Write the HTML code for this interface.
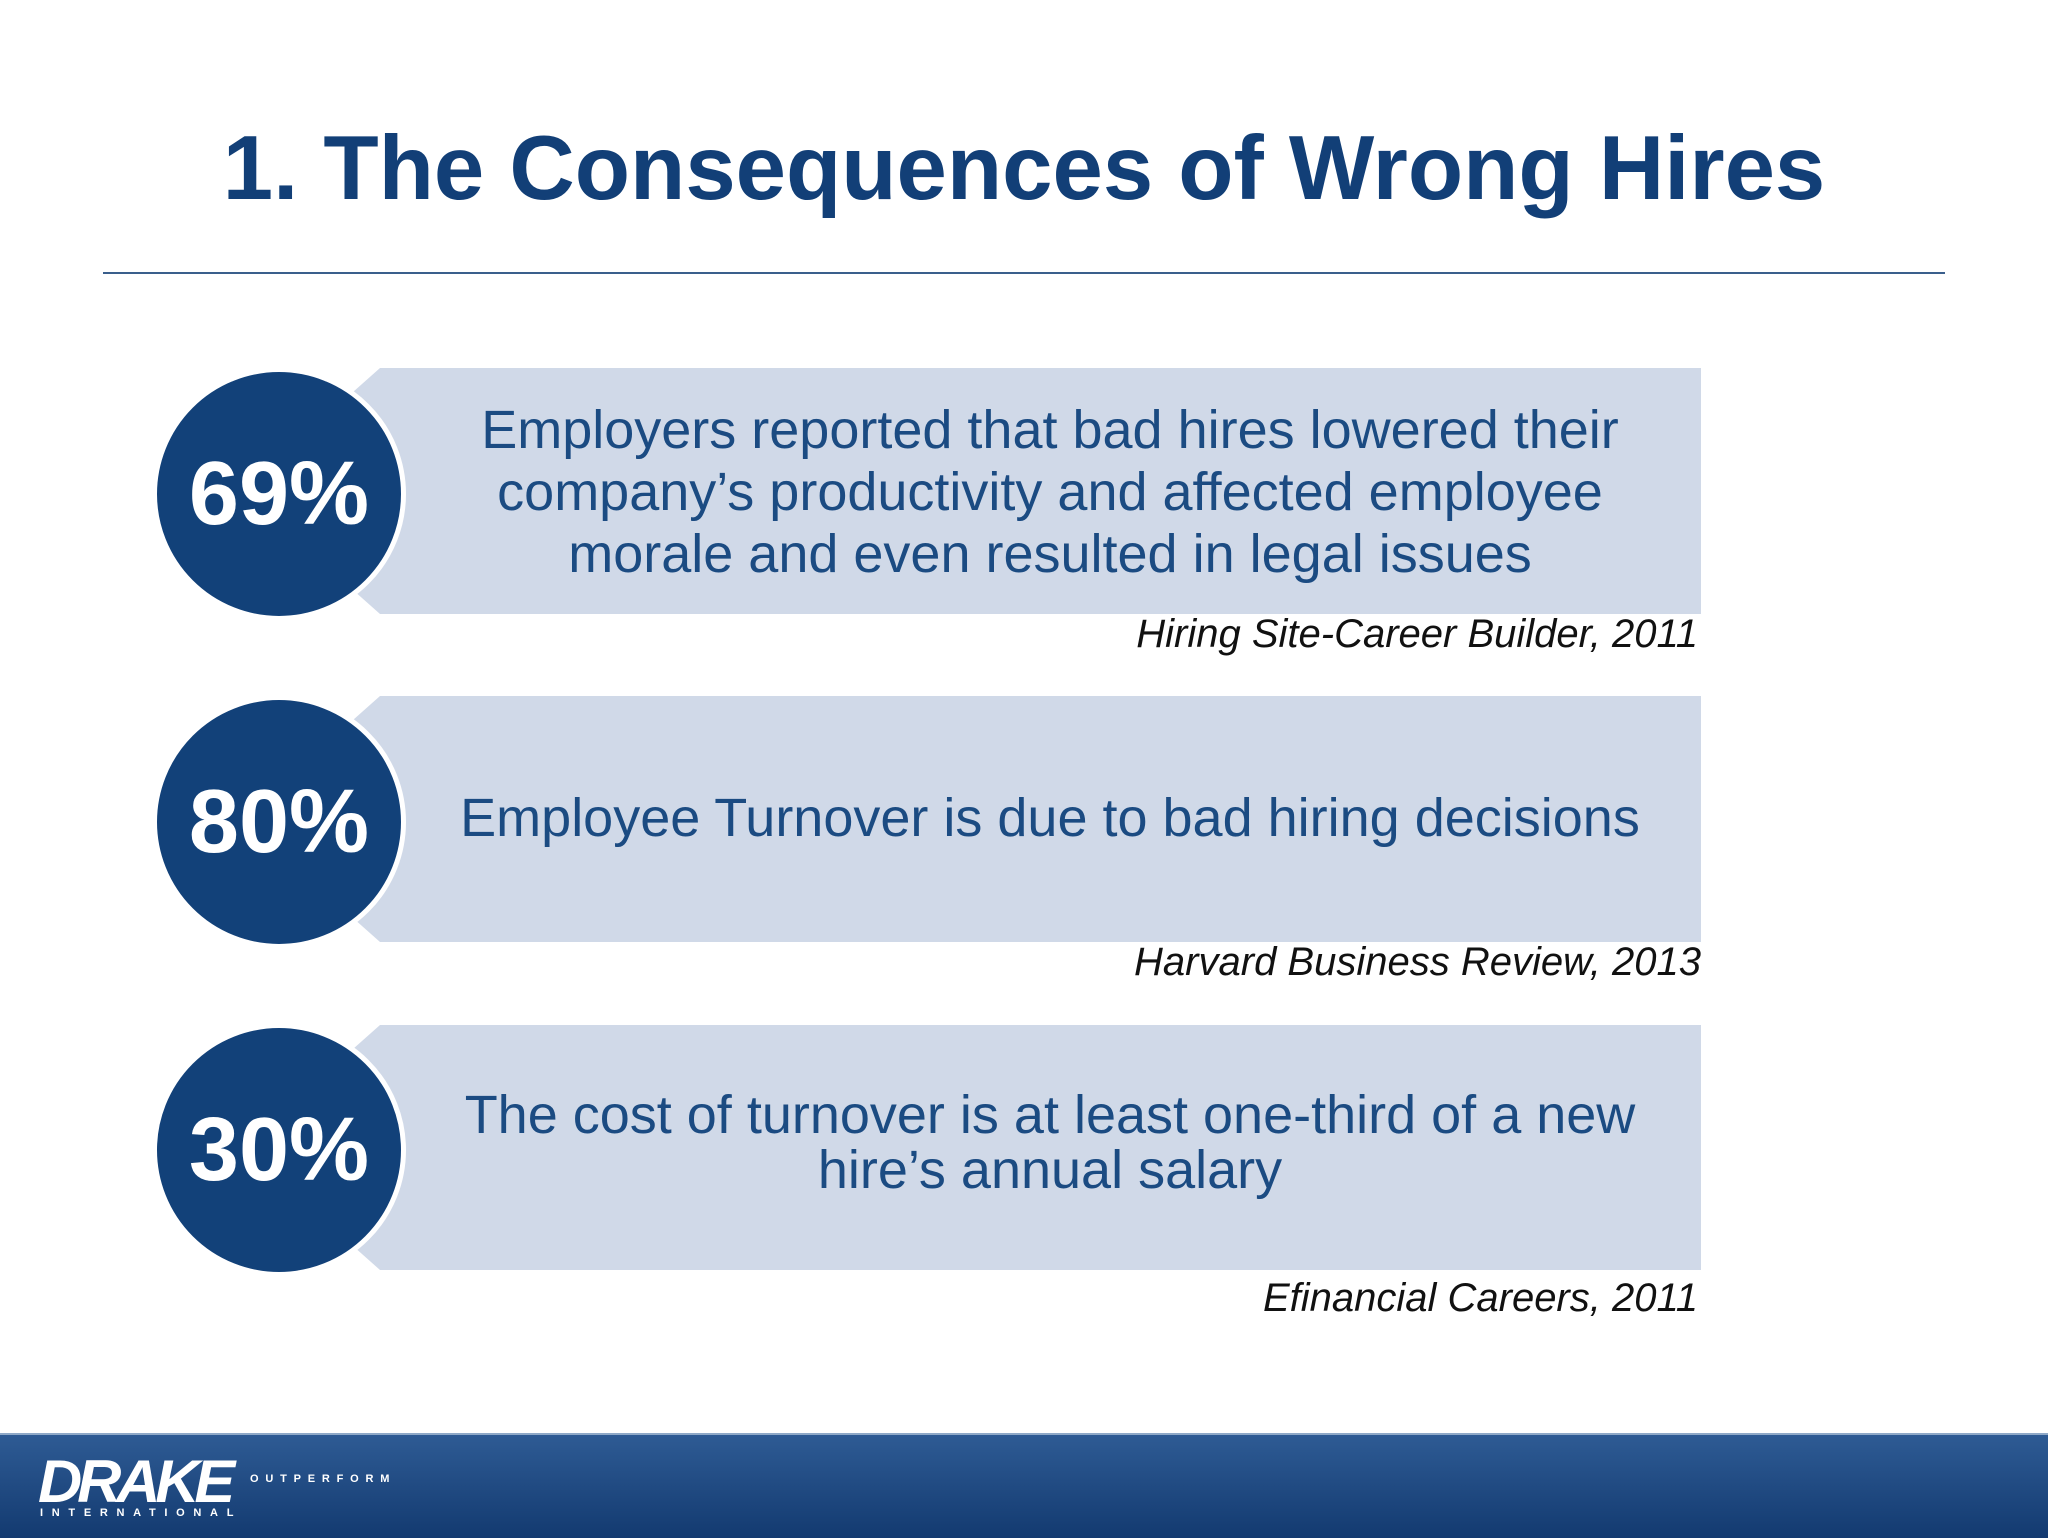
<!DOCTYPE html>
<html><head><meta charset="utf-8"><style>
body{margin:0;width:2048px;height:1536px;position:relative;background:#fff;overflow:hidden;font-family:"Liberation Sans",Arial,sans-serif}
.abs{position:absolute}
.title{left:0;width:2048px;top:117px;text-align:center;font-weight:bold;font-size:90.5px;color:#123f77}
.rule{left:103px;width:1842px;top:272px;height:2px;background:#3a5f8c}
.circle{width:244px;height:244px;border-radius:50%;background:#124179;border:5px solid #fff;left:152px;color:#fff;font-weight:bold;font-size:90px;display:flex;align-items:center;justify-content:center}
.txt{left:455px;width:1190px;text-align:center;color:#1b4b82;font-size:54px;line-height:62px}
.src{right:350px;font-style:italic;font-size:40px;color:#111}
.footer{left:0;top:1433px;width:2048px;height:103px;background:linear-gradient(#2e5b94,#133a70);border-top:2px solid #8fa9c8}
</style></head><body>
<div class="abs title">1. The Consequences of Wrong Hires</div>
<div class="abs rule"></div>

<svg class="abs" style="left:0;top:0" width="2048" height="1536">
<polygon points="380,368 1701,368 1701,614 380,614 353,590 353,392" fill="#d0d9e8"/>
<polygon points="380,696 1701,696 1701,942 380,942 353,918 353,720" fill="#d0d9e8"/>
<polygon points="380,1025 1701,1025 1701,1270 380,1270 353,1246 353,1049" fill="#d0d9e8"/>
</svg>

<div class="abs circle" style="top:367px">69%</div>
<div class="abs txt" style="top:399px">Employers reported that bad hires lowered their company’s productivity and affected employee morale and even resulted in legal issues</div>
<div class="abs src" style="top:612px">Hiring Site-Career Builder, 2011</div>

<div class="abs circle" style="top:695px">80%</div>
<div class="abs txt" style="top:787px">Employee Turnover is due to bad hiring decisions</div>
<div class="abs src" style="top:940px;right:347px">Harvard Business Review, 2013</div>

<div class="abs circle" style="top:1023px">30%</div>
<div class="abs txt" style="top:1088px;line-height:55px">The cost of turnover is at least one-third of a new hire’s annual salary</div>
<div class="abs src" style="top:1276px">Efinancial Careers, 2011</div>

<div class="abs footer">
<div class="abs" style="left:38px;top:12px;font-size:60px;font-weight:900;font-style:italic;color:#fff;letter-spacing:-5px;transform:scaleX(1.02);transform-origin:left">DRAKE</div>
<div class="abs" style="left:250px;top:38px;font-size:11px;font-weight:bold;color:#fff;letter-spacing:6.8px">OUTPERFORM</div>
<div class="abs" style="left:40px;top:72px;font-size:11px;font-weight:bold;color:#fff;letter-spacing:8.7px">INTERNATIONAL</div>
</div>
</body></html>
